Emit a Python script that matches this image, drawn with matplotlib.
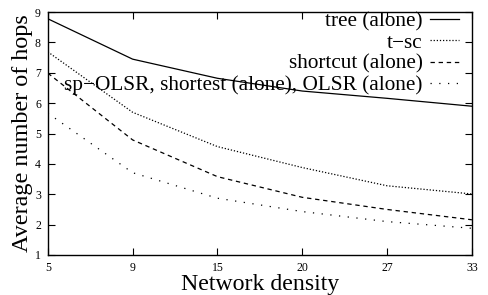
import matplotlib
matplotlib.use("Agg")
import matplotlib.pyplot as plt

plt.rcParams['font.family'] = ['Liberation Serif', 'DejaVu Serif']

densities = ["5", "9", "15", "20", "27", "33"]
tree = [8.78, 7.45, 6.82, 6.40, 6.16, 5.90]
tsc = [7.69, 5.70, 4.57, 3.88, 3.28, 3.01]
shortcut = [6.99, 4.79, 3.58, 2.90, 2.50, 2.16]
sp_olsr = [5.67, 3.71, 2.87, 2.43, 2.10, 1.88]

labels = ["tree (alone)", "t\u2212sc", "shortcut (alone)",
          "sp\u2212OLSR, shortest (alone), OLSR (alone)"]

fig = plt.figure(figsize=(4.88, 2.95), dpi=100)
ax = fig.add_axes([0.098, 0.1356, 0.869, 0.8234])
x = list(range(len(densities)))
ax.plot(x, tree, color='black', lw=0.9, ls='-', label=labels[0])
ax.plot(x, tsc, color='black', lw=0.9, ls=(0, (1, 1.5)), label=labels[1])
ax.plot(x, shortcut, color='black', lw=0.9, ls=(0, (3.5, 3)), label=labels[2])
ax.plot(x, sp_olsr, color='black', lw=0.9, ls=(0, (1, 6)), label=labels[3])

ax.set_xlim(0, 5)
ax.set_ylim(1, 9)
ax.set_xticks(x)
ax.set_xticklabels(densities)
ax.set_yticks(range(1, 10))
ax.tick_params(direction='in', top=True, right=True, length=5, width=0.8,
               labelsize=8.5, pad=5)
for s in ax.spines.values():
    s.set_linewidth(1.0)
ax.set_xlabel("Network density", fontsize=17.2, labelpad=0)
ax.set_ylabel("Average number of hops", fontsize=17.4, labelpad=1)

leg = ax.legend(loc='upper right', markerfirst=False, frameon=False,
                fontsize=15.3, handlelength=1.36, handletextpad=0.33,
                labelspacing=0.07, borderaxespad=0.0, borderpad=0.0,
                bbox_to_anchor=(0.969, 1.003))

fig.savefig("out.png", dpi=100)
